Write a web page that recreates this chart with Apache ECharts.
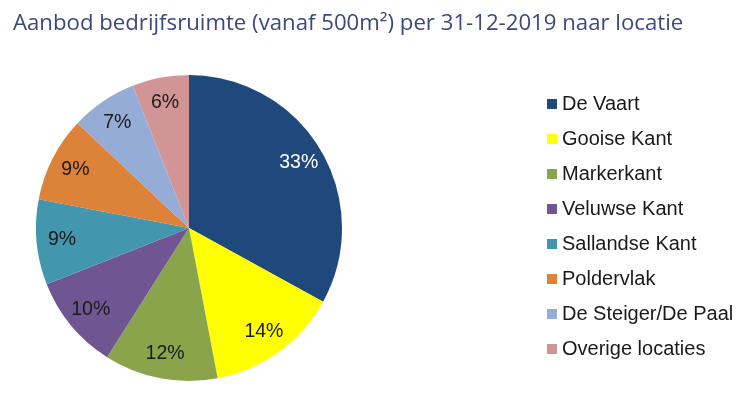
<!DOCTYPE html>
<html><head><meta charset="utf-8">
<script src="https://cdn.jsdelivr.net/npm/echarts@6/dist/echarts.min.js"></script>
<style>html,body{margin:0;padding:0;background:#fff}#c{width:747px;height:395px}</style>
</head><body><div id="c"></div>
<script>
const titleText = 'Aanbod bedrijfsruimte (vanaf 500m²) per 31-12-2019 naar locatie';
const categories = ['De Vaart','Gooise Kant','Markerkant','Veluwse Kant','Sallandse Kant','Poldervlak','De Steiger/De Paal','Overige locaties'];
const values = [33,14,12,10,9,9,7,6];
const colors = ['#1f497d','#ffff00','#8aa44c','#6f5592','#4297ae','#dc8239','#95acd6','#d29595'];
const labelColors = ['#ffffff','#1a1a1a','#1a1a1a','#1a1a1a','#1a1a1a','#1a1a1a','#1a1a1a','#1a1a1a'];

const chart = echarts.init(document.getElementById('c'), null, {renderer:'canvas'});
const mainData = categories.map((n,i)=>({name:n, value:values[i], itemStyle:{color:colors[i]}}));
const labelData = categories.map((n,i)=>({name:n, value:values[i], label:{color:labelColors[i]}}));
chart.setOption({
  animation:false,
  title:{text:titleText,left:8,top:8,textStyle:{fontFamily:'Open Sans, sans-serif',fontSize:22.2,fontWeight:'normal',color:'#3b4a7b'}},
  legend:{orient:'vertical',left:547,top:94,padding:0,icon:'rect',itemWidth:10,itemHeight:10,itemGap:15,
    data:categories,
    textStyle:{fontFamily:'Liberation Sans, Arial, sans-serif',fontSize:20,lineHeight:20,color:'#1a1a1a'}},
  series:[
    {type:'pie',center:[189,228],radius:[0,153],startAngle:90,clockwise:true,data:mainData,
     label:{show:false},labelLine:{show:false},emphasis:{disabled:true}},
    {type:'pie',center:[189,228],radius:[96,153],startAngle:90,clockwise:true,silent:true,
     data:labelData,itemStyle:{color:'rgba(0,0,0,0)'},
     label:{show:true,position:'inside',formatter:p=>p.value+'%',fontFamily:'Liberation Sans, Arial, sans-serif',fontSize:19.5},
     labelLine:{show:false},emphasis:{disabled:true}}
  ]
});
</script></body></html>
